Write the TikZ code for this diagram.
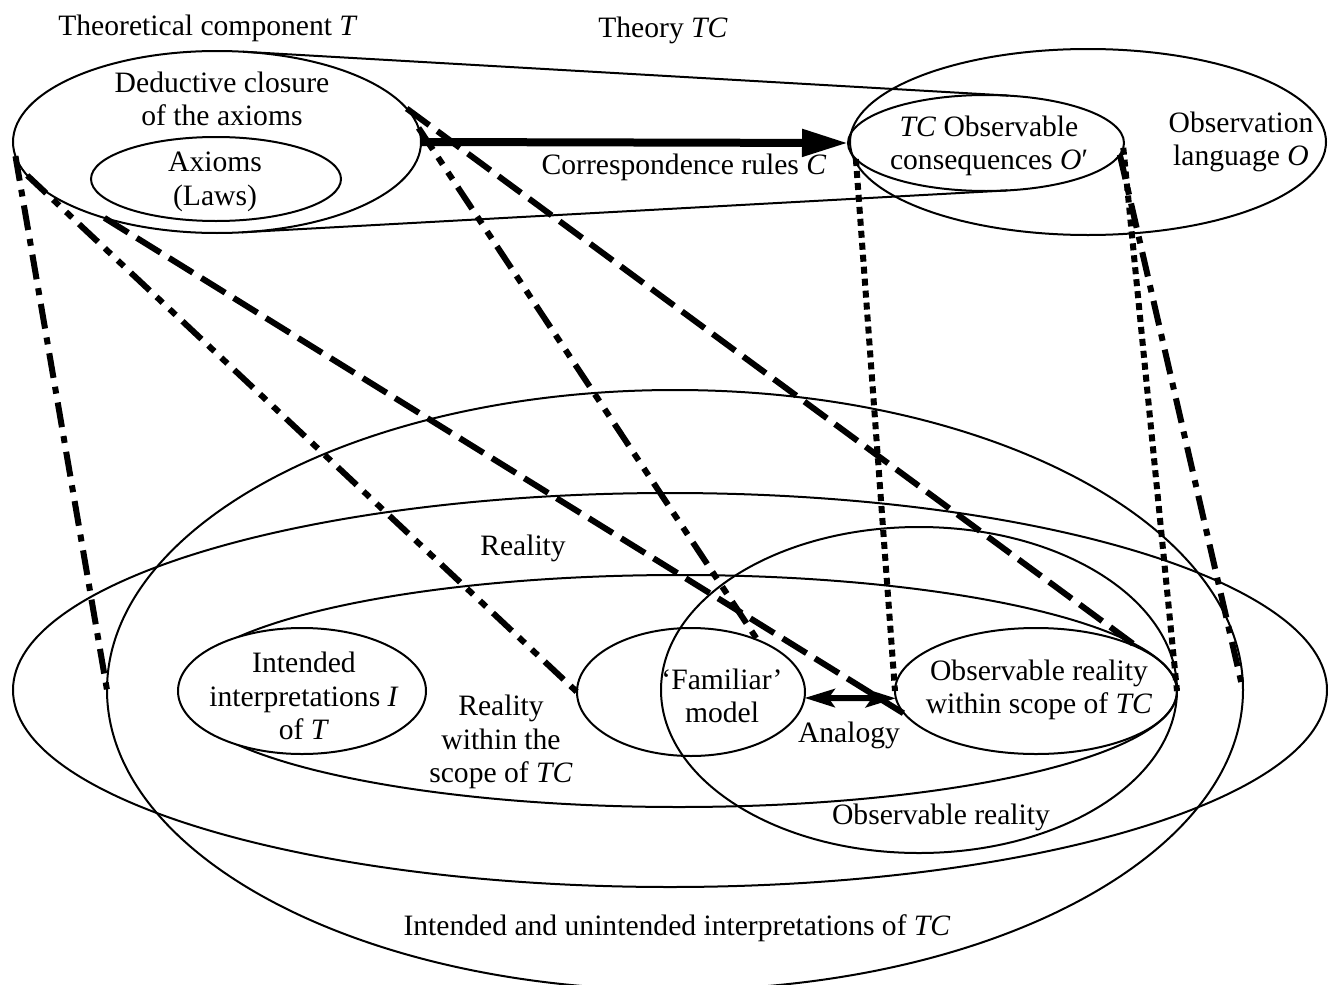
\documentclass[tikz,border=0pt]{standalone}
\usepackage{fontspec}
\setmainfont{Liberation Serif}
\usetikzlibrary{shapes.geometric,arrows.meta}
\begin{document}
\begin{tikzpicture}[x=0.5pt,y=-0.5pt,
  ell/.style={draw, ellipse, line width=1pt, inner sep=0pt, outer sep=0pt},
  lbl/.style={align=center, font=\fontsize{14.8}{16.7}\selectfont, inner sep=0pt},
  longdash/.style={line width=3pt, dash pattern=on 14pt off 5pt},
  dashdot/.style={line width=3pt, dash pattern=on 12.5pt off 4.5pt on 3.5pt off 4.5pt},
  dashdotdot/.style={line width=3pt, dash pattern=on 13pt off 4.7pt on 4.2pt off 4.7pt on 4.2pt off 4.7pt},
  sqdot/.style={line width=3pt, dash pattern=on 3.5pt off 2.5pt},
  corr/.style={line width=4pt, -{Triangle[length=23pt,width=13pt]}},
  analogy/.style={line width=3pt, {Stealth[length=15pt,width=9pt,inset=3pt]}-{Stealth[length=15pt,width=9pt,inset=3pt]}}]
\path[use as bounding box] (0,0) rectangle (1328,985);
\clip (0,0) rectangle (1328,985);

% upper ellipses
\node[ell, minimum width=204pt, minimum height=91pt] (T) at (217,142) {};
\node[ell, minimum width=125pt, minimum height=42pt] (ax) at (216,179) {};
\node[ell, minimum width=138pt, minimum height=48pt] (Op) at (986,143) {};
\node[ell, minimum width=238pt, minimum height=93pt] (O) at (1088,142) {};
% theory TC envelope
\coordinate (tt1) at (243,51.7);
\coordinate (tt2) at (1008.5,95.6);
\coordinate (tb1) at (242,232.3);
\coordinate (tb2) at (1007.5,190.4);
\draw[line width=1pt] (tt1) -- (tt2);
\draw[line width=1pt] (tb1) -- (tb2);

% lower ellipses
\node[ell, minimum width=568pt, minimum height=300pt] (tall) at (675,690) {};
\node[ell, minimum width=657pt, minimum height=197pt] (wide) at (670,690) {};
\node[ell, minimum width=498pt, minimum height=116pt] (scope) at (679,691) {};
\node[ell, minimum width=258pt, minimum height=163pt] (obsr) at (919,690) {};
\node[ell, fill=white, minimum width=124pt, minimum height=63pt] (int) at (302,691) {};
\node[ell, minimum width=114pt, minimum height=64pt] (fam) at (691,692) {};
\node[ell, minimum width=141pt, minimum height=63pt] (obsw) at (1036,691) {};

% connectors
\draw[dashdot] (T.184) -- (tall.west);
\draw[dashdotdot] (T.190) -- (fam.west);
\draw[longdash] (T.214) -- (obsw.190);
\draw[longdash] (T.10) -- (obsw.23.5);
\draw[dashdotdot] (T.4) -- (fam.38);
\draw[sqdot] (Op.187) -- (obsw.west);
\draw[sqdot] (Op.-2) -- (obsw.east);
\draw[dashdot] (Op.-5) -- (tall.east);
\draw[corr] (T.east) -- (Op.west);
\draw[analogy] (fam.-3) -- (obsw.183);

% labels
\node[lbl] (lT) at (208,28) {Theoretical component \textit{T}};
\node[lbl] (lTC) at (663,30) {Theory \textit{TC}};
\node[lbl] (lded) at (222,99) {Deductive closure\\of the axioms};
\node[lbl] (lax) at (215,182) {Axioms\\(Laws)};
\node[lbl] (lcorr) at (684,167) {Correspondence rules \textit{C}};
\node[lbl] (lOp) at (989,146) {\textit{TC} Observable\\consequences \textit{O}′};
\node[lbl] (lO) at (1241,142) {Observation\\language \textit{O}};
\node[lbl] (lreal) at (523,548) {Reality};
\node[lbl] (lint) at (304,696) {Intended\\interpretations \textit{I}\\of \textit{T}};
\node[lbl] (lscope) at (501,742) {Reality\\within the\\scope of \textit{TC}};
\node[lbl] (lfam) at (722,696) {‘Familiar’\\model};
\node[lbl] (lana) at (849,735) {Analogy};
\node[lbl] (lobsw) at (1039,690) {Observable reality\\within scope of \textit{TC}};
\node[lbl] (lobsr) at (941,817) {Observable reality};
\node[lbl] (ltall) at (677,928) {Intended and unintended interpretations of \textit{TC}};
\end{tikzpicture}
\end{document}
